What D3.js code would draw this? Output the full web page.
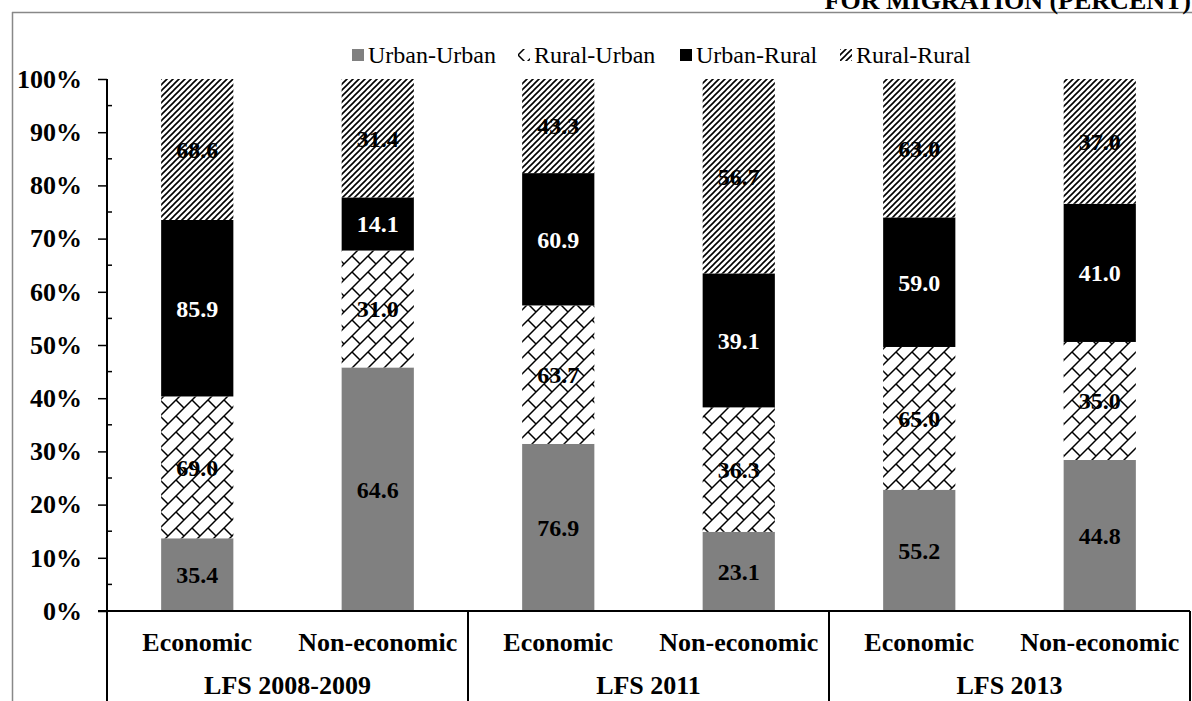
<!DOCTYPE html>
<html lang="en">
<head>
  <meta charset="UTF-8">
  <title>Migration stack</title>
  <style>
    body { margin: 0; background: #fff; }
    text { font-family: "Liberation Serif", "Times New Roman", serif; }
  </style>
</head>
<body>
  <script src="https://d3js.org/d3.v7.min.js"></script>
  <script>
    const groups = ['LFS 2008-2009', 'LFS 2011', 'LFS 2013'];
    const reasons = ['Economic', 'Non-economic'];
    const seriesNames = ['Urban-Urban', 'Rural-Urban', 'Urban-Rural', 'Rural-Rural'];
    // one value per bar, bars in order: group x reason
    const urbanUrban = [35.4, 64.6, 76.9, 23.1, 55.2, 44.8];
    const ruralUrban = [69.0, 31.0, 63.7, 36.3, 65.0, 35.0];
    const urbanRural = [85.9, 14.1, 60.9, 39.1, 59.0, 41.0];
    const ruralRural = [68.6, 31.4, 43.3, 56.7, 63.0, 37.0];
    const yTicks = [0, 0.1, 0.2, 0.3, 0.4, 0.5, 0.6, 0.7, 0.8, 0.9, 1];

    const width = 1192, height = 701;
    const margin = { top: 79, left: 107, bottom: 90, right: 2 };

    const bars = [];
    groups.forEach((g, gi) => reasons.forEach((r, ri) => {
      const i = gi * reasons.length + ri;
      bars.push({
        key: g + '|' + r, group: g, reason: r,
        'Urban-Urban': urbanUrban[i], 'Rural-Urban': ruralUrban[i],
        'Urban-Rural': urbanRural[i], 'Rural-Rural': ruralRural[i]
      });
    }));

    const stacked = d3.stack().keys(seriesNames).offset(d3.stackOffsetExpand)(bars);

    const svg = d3.select('body').append('svg')
      .attr('width', width).attr('height', height);

    // fill patterns
    const defs = svg.append('defs');
    const diag = defs.append('pattern').attr('id', 'rr')
      .attr('patternUnits', 'userSpaceOnUse').attr('width', 6).attr('height', 6);
    diag.append('rect').attr('width', 6).attr('height', 6).attr('fill', '#fff');
    diag.append('path').attr('d', 'M-1,1 l2,-2 M0,6 l6,-6 M5,7 l2,-2')
      .attr('stroke', '#000').attr('stroke-width', 1.6);

    // chain-link: "/" strands joined by short "\" links
    const weave = defs.append('pattern').attr('id', 'ru')
      .attr('patternUnits', 'userSpaceOnUse').attr('width', 16).attr('height', 16);
    weave.append('rect').attr('width', 16).attr('height', 16).attr('fill', '#fff');
    weave.append('path')
      .attr('d', 'M-1,17 L17,-1 M-1,1 L1,-1 M15,17 L17,15 M0,0 L8,8 M16,0 L17,1 M0,16 L1,17')
      .attr('stroke', '#000').attr('stroke-width', 1.5).attr('fill', 'none');

    const fills = {
      'Urban-Urban': '#808080',
      'Rural-Urban': 'url(#ru)',
      'Urban-Rural': '#000000',
      'Rural-Rural': 'url(#rr)'
    };

    // page frame and clipped heading
    svg.append('line').attr('x1', 12).attr('x2', width).attr('y1', 12.5).attr('y2', 12.5)
      .attr('stroke', '#888').attr('stroke-width', 1.5);
    svg.append('line').attr('x1', 12.5).attr('x2', 12.5).attr('y1', 12).attr('y2', height)
      .attr('stroke', '#888').attr('stroke-width', 1.5);
    svg.append('text').attr('x', 1191).attr('y', 9).attr('text-anchor', 'end')
      .attr('font-size', 26).attr('font-weight', 'bold')
      .text('FOR MIGRATION (PERCENT)');

    const x = d3.scaleBand().domain(bars.map(d => d.key))
      .range([margin.left, width - margin.right]).paddingInner(0.6).paddingOuter(0.3);
    const y = d3.scaleLinear().domain([0, 1])
      .range([height - margin.bottom, margin.top]);
    const step = x.step();
    const y0 = y(0);

    // bars
    svg.append('g').selectAll('g').data(stacked).join('g')
      .attr('fill', d => fills[d.key])
      .selectAll('rect').data(d => d).join('rect')
      .attr('x', d => x(d.data.key))
      .attr('width', x.bandwidth())
      .attr('y', d => y(d[1]))
      .attr('height', d => y(d[0]) - y(d[1]));

    // value labels
    const labelG = svg.append('g');
    stacked.forEach(s => {
      s.forEach(d => {
        labelG.append('text')
          .attr('x', x(d.data.key) + x.bandwidth() / 2)
          .attr('y', (y(d[0]) + y(d[1])) / 2)
          .attr('dy', '0.35em')
          .attr('text-anchor', 'middle')
          .attr('font-size', 24).attr('font-weight', 'bold')
          .attr('fill', s.key === 'Urban-Rural' ? '#fff' : '#000')
          .text(d3.format('.1f')(d.data[s.key]));
      });
    });

    // y axis
    const yAxis = d3.axisLeft(y).tickValues(yTicks).tickFormat(d3.format('.0%')).tickSize(9);
    const yg = svg.append('g').attr('transform', `translate(${margin.left},0)`).call(yAxis);
    yg.select('.domain').remove();
    yg.selectAll('.tick line').attr('stroke', '#000').attr('stroke-width', 1.5);
    yg.selectAll('.tick text').attr('x', -25).attr('font-size', 26).attr('font-weight', 'bold')
      .attr('font-family', '"Liberation Serif", serif').attr('fill', '#000');
    const minor = d3.range(0.05, 1, 0.1);
    svg.append('g').selectAll('line').data(minor).join('line')
      .attr('x1', margin.left).attr('x2', margin.left + 5)
      .attr('y1', d => y(d)).attr('y2', d => y(d))
      .attr('stroke', '#000').attr('stroke-width', 1.5);
    svg.append('line').attr('x1', margin.left).attr('x2', margin.left)
      .attr('y1', y(1)).attr('y2', height).attr('stroke', '#000').attr('stroke-width', 2);

    // x axis with two levels
    svg.append('line').attr('x1', margin.left - 9).attr('x2', width - margin.right)
      .attr('y1', y0).attr('y2', y0).attr('stroke', '#000').attr('stroke-width', 2);
    svg.append('g').selectAll('text').data(bars).join('text')
      .attr('x', d => x(d.key) + x.bandwidth() / 2)
      .attr('y', y0 + 40)
      .attr('text-anchor', 'middle')
      .attr('font-size', 26).attr('font-weight', 'bold')
      .text(d => d.reason);
    const groupX = g => x(g + '|' + reasons[0]) - (step - x.bandwidth()) / 2;
    svg.append('g').selectAll('line').data(groups).join('line')
      .attr('x1', g => groupX(g) + step * reasons.length)
      .attr('x2', g => groupX(g) + step * reasons.length)
      .attr('y1', y0).attr('y2', height)
      .attr('stroke', '#000').attr('stroke-width', 2);
    svg.append('g').selectAll('text').data(groups).join('text')
      .attr('x', g => groupX(g) + step * reasons.length / 2)
      .attr('y', y0 + 83)
      .attr('text-anchor', 'middle')
      .attr('font-size', 26).attr('font-weight', 'bold')
      .text(g => g);

    // legend
    const legend = svg.append('g').attr('transform', 'translate(0,55)');
    const legendX = [352, 518, 680, 840];
    seriesNames.forEach((n, i) => {
      const item = legend.append('g').attr('transform', `translate(${legendX[i]},0)`);
      item.append('rect').attr('x', 0).attr('y', -6).attr('width', 12).attr('height', 12)
        .attr('fill', fills[n]);
      item.append('text').attr('x', 16).attr('y', 0).attr('dy', '0.35em')
        .attr('font-size', 24).text(n);
    });
  </script>
</body>
</html>
